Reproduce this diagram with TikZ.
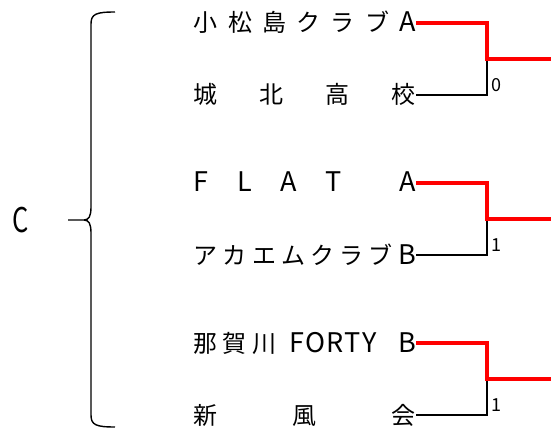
\documentclass[tikz,border=0pt]{standalone}
\usepackage{fontspec}
\setmainfont{Noto Sans CJK JP}
\usepackage{tikz}
\usetikzlibrary{positioning}

\tikzset{
  team/.style={anchor=east,inner sep=0pt,text height=24pt,text depth=6pt,
    font=\fontsize{24}{24}\selectfont},
  score/.style={anchor=west,inner sep=0pt,font=\fontsize{18}{18}\selectfont},
  win/.style={draw=red,line width=4.8pt},
  lose/.style={draw=black,line width=2.8pt},
}
\newcommand{\spread}[1]{\makebox[222pt][s]{#1}}
\newcommand{\lat}[1]{{\fontsize{27}{27}\selectfont #1}}

\begin{document}
\begin{tikzpicture}[x=1pt,y=-1pt]
        \useasboundingbox (0,0) rectangle (551,430);

        \node[team] (kmt) at (416,23) {\spread{小\hfill 松\hfill 島\hfill ク\hfill ラ\hfill ブ\hfill \lat{A}}};
        \node[team] (jhk) at (416,95) {\spread{城\hfill 北\hfill 高\hfill 校}};
        \node[team] (flat) at (416,183) {\spread{\lat{F}\hfill \lat{L}\hfill \lat{A}\hfill \lat{T}\hfill\hfill \lat{A}}};
        \node[team] (akm) at (416,255) {\spread{ア\hfill カ\hfill エ\hfill ム\hfill ク\hfill ラ\hfill ブ\hfill \lat{B}}};
        \node[team] (nak) at (416,343) {\spread{那\hspace{5pt}賀\hspace{6pt}川\hspace{13pt}\lat{F\kern1pt O\kern1pt R\kern1pt T\kern1pt Y}\hfill \lat{B}}};
        \node[team] (shf) at (416,415) {\spread{新\hfill 風\hfill 会}};

        \coordinate (j1) at (487,59);
        \coordinate (j2) at (487,219);
        \coordinate (j3) at (487,379);
        \coordinate (w1) at (551,59);
        \coordinate (w2) at (551,219);
        \coordinate (w3) at (551,379);

        \draw[lose] (jhk.east) -| (j1);
        \draw[lose] (akm.east) -| (j2);
        \draw[lose] (shf.east) -| (j3);
        \draw[win] (kmt.east) -| (j1) -- (w1);
        \draw[win] (flat.east) -| (j2) -- (w2);
        \draw[win] (nak.east) -| (j3) -- (w3);

        \node[score] (s1) at (491,85) {0};
        \node[score] (s2) at (491,245) {1};
        \node[score] (s3) at (491,405) {1};

        \node[font=\fontsize{34}{34}\selectfont] (grp) at (21,220) {\scalebox{0.75}[1]{C}};
        \draw[line width=1.4pt] (115,12) .. controls (96,12) and (91,14) .. (91,24) -- (91,207)
          .. controls (91,216) and (89,220) .. (84,220) -- (68,220);
        \draw[line width=1.4pt] (84,220) .. controls (89,220) and (91,224) .. (91,233) -- (91,415)
          .. controls (91,425) and (96,427) .. (115,427);
      \end{tikzpicture}
\end{document}
